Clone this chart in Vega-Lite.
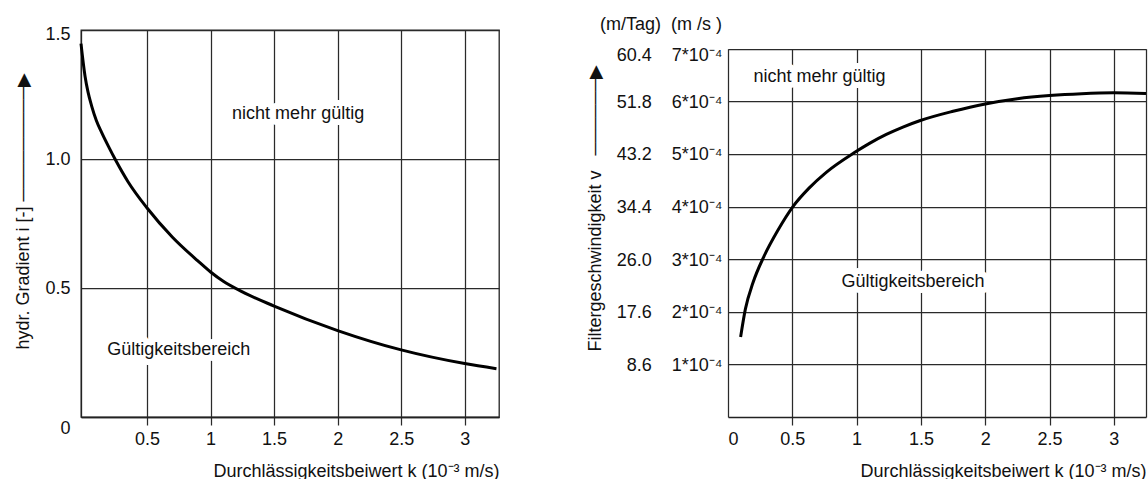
{
  "$schema": "https://vega.github.io/schema/vega-lite/v6.json",
  "background": "white",
  "padding": {"left": 14, "top": 15, "right": 0, "bottom": 0},
  "spacing": 82,
  "config": {
    "font": "Liberation Sans",
    "axis": {
      "labelFont": "Liberation Sans", "labelFontSize": 18, "labelColor": "#111",
      "titleFont": "Liberation Sans", "titleFontSize": 18, "titleFontWeight": "normal", "titleColor": "#111",
      "gridColor": "#2a2a2a", "gridWidth": 1.25, "gridOpacity": 1,
      "domainColor": "#222", "domainWidth": 1.3,
      "tickColor": "#2a2a2a", "tickWidth": 1.25
    },
    "title": {"font": "Liberation Sans", "fontSize": 18, "fontWeight": "normal", "color": "#111"}
  },
  "datasets": {
    "gradient": [
      {"k": -0.02, "i": 1.447}, {"k": 0.0115, "i": 1.322}, {"k": 0.035, "i": 1.26},
      {"k": 0.064, "i": 1.205}, {"k": 0.1, "i": 1.15}, {"k": 0.143, "i": 1.102},
      {"k": 0.2, "i": 1.045}, {"k": 0.253, "i": 0.995}, {"k": 0.35, "i": 0.912},
      {"k": 0.5, "i": 0.81}, {"k": 0.7, "i": 0.697}, {"k": 0.9, "i": 0.605},
      {"k": 1.0, "i": 0.562}, {"k": 1.1, "i": 0.526}, {"k": 1.25, "i": 0.485},
      {"k": 1.5, "i": 0.43}, {"k": 2.0, "i": 0.335}, {"k": 2.5, "i": 0.26},
      {"k": 3.0, "i": 0.207}, {"k": 3.25, "i": 0.187}
    ],
    "velocity": [
      {"k": 0.098, "v": 1.52}, {"k": 0.135, "v": 2.05}, {"k": 0.194, "v": 2.55},
      {"k": 0.279, "v": 3.05}, {"k": 0.388, "v": 3.55}, {"k": 0.505, "v": 4.0},
      {"k": 0.63, "v": 4.35}, {"k": 0.764, "v": 4.65}, {"k": 0.98, "v": 5.02},
      {"k": 1.1, "v": 5.2}, {"k": 1.231, "v": 5.37}, {"k": 1.36, "v": 5.51},
      {"k": 1.49, "v": 5.63}, {"k": 1.75, "v": 5.81}, {"k": 2.0, "v": 5.95},
      {"k": 2.25, "v": 6.05}, {"k": 2.5, "v": 6.11}, {"k": 2.75, "v": 6.145},
      {"k": 3.0, "v": 6.16}, {"k": 3.25, "v": 6.15}
    ],
    "labelsLeft": [
      {"k": 1.689, "i": 1.174, "label": "nicht mehr gültig"},
      {"k": 0.75, "i": 0.26, "label": "Gültigkeitsbereich"}
    ],
    "labelsRight": [
      {"k": 0.712, "v": 6.46, "label": "nicht mehr gültig"},
      {"k": 1.438, "v": 2.57, "label": "Gültigkeitsbereich"}
    ]
  },
  "hconcat": [
    {
      "width": 418,
      "height": 387,
      "view": {"stroke": "#222", "strokeWidth": 1.3},
      "layer": [
        {
          "data": {"name": "gradient"},
          "mark": {"type": "line", "color": "#000", "strokeWidth": 3, "interpolate": "monotone"},
          "encoding": {
            "x": {
              "field": "k", "type": "quantitative",
              "scale": {"domain": [-0.02, 3.27], "nice": false, "zero": false},
              "axis": {
                "values": [0.5, 1, 1.5, 2, 2.5, 3],
                "labelExpr": "datum.value + ''",
                "grid": true, "tickSize": 8, "labelPadding": 5.5,
                "title": "Durchlässigkeitsbeiwert k (10⁻³ m/s)",
                "titleAnchor": "end", "titlePadding": 13.5
              }
            },
            "y": {
              "field": "i", "type": "quantitative",
              "scale": {"domain": [0, 1.5], "nice": false},
              "axis": {
                "values": [0, 0.5, 1, 1.5],
                "labelExpr": "datum.value == 0 ? '0' : format(datum.value, '.1f')",
                "ticks": false, "grid": true, "labelPadding": 11,
                "labelOffset": {"condition": [{"test": "datum.value == 0", "value": 11}, {"test": "datum.value == 1.5", "value": 4}], "value": 0},
                "title": "hydr. Gradient i [-]\u00a0─────────▶",
                "titleAlign": "left", "titleY": 319, "titlePadding": 12
              }
            }
          }
        },
        {
          "data": {"name": "labelsLeft"},
          "mark": {"type": "text", "fontSize": 18, "font": "Liberation Sans", "fill": "white", "stroke": "white", "strokeWidth": 12, "strokeJoin": "round"},
          "encoding": {
            "x": {"field": "k", "type": "quantitative"},
            "y": {"field": "i", "type": "quantitative"},
            "text": {"field": "label"}
          }
        },
        {
          "data": {"name": "labelsLeft"},
          "mark": {"type": "text", "fontSize": 18, "font": "Liberation Sans", "fill": "#111"},
          "encoding": {
            "x": {"field": "k", "type": "quantitative"},
            "y": {"field": "i", "type": "quantitative"},
            "text": {"field": "label"}
          }
        }
      ]
    },
    {
      "width": 418,
      "height": 387,
      "view": {"stroke": null},
      "title": {"text": "(m/Tag)\u00a0\u00a0(m /s )", "anchor": "start", "frame": "group", "dx": -128, "offset": -3.5},
      "layer": [
        {
          "data": {"name": "velocity"},
          "mark": {"type": "line", "color": "#000", "strokeWidth": 3, "interpolate": "monotone"},
          "encoding": {
            "x": {
              "field": "k", "type": "quantitative",
              "scale": {"domain": [0, 3.25], "nice": false, "zero": false},
              "axis": {
                "values": [0, 0.5, 1, 1.5, 2, 2.5, 3, 3.25],
                "labelExpr": "datum.value == 3.25 ? '' : datum.value + ''",
                "grid": true, "tickSize": 8, "labelPadding": 5.5,
                "tickOpacity": {"condition": {"test": "datum.value == 0 || datum.value == 3.25", "value": 0}, "value": 1},
                "title": "Durchlässigkeitsbeiwert k (10⁻³ m/s)",
                "titleAnchor": "end", "titlePadding": 13.5
              }
            },
            "y": {
              "field": "v", "type": "quantitative",
              "scale": {"domain": [0.355, 7.355], "nice": false, "zero": false, "range": [368.3, 0]},
              "axis": {
                "values": [1, 2, 3, 4, 5, 6, 7],
                "labelExpr": "['', '8.6', '17.6', '26.0', '34.4', '43.2', '51.8', '60.4'][datum.value] + '\u00a0\u00a0\u00a0\u00a0' + datum.value + '*10⁻⁴'",
                "ticks": false, "grid": true, "domain": false, "labelPadding": 6,
                "labelOffset": {"condition": {"test": "datum.value == 7", "value": 7}, "value": 1},
                "title": "Filtergeschwindigkeit v\u00a0\u00a0\u00a0──────▶",
                "titleAlign": "left", "titleY": 321, "titlePadding": 12
              }
            }
          }
        },
        {
          "data": {"name": "labelsRight"},
          "mark": {"type": "text", "fontSize": 18, "font": "Liberation Sans", "fill": "white", "stroke": "white", "strokeWidth": 12, "strokeJoin": "round"},
          "encoding": {
            "x": {"field": "k", "type": "quantitative"},
            "y": {"field": "v", "type": "quantitative"},
            "text": {"field": "label"}
          }
        },
        {
          "data": {"name": "labelsRight"},
          "mark": {"type": "text", "fontSize": 18, "font": "Liberation Sans", "fill": "#111"},
          "encoding": {
            "x": {"field": "k", "type": "quantitative"},
            "y": {"field": "v", "type": "quantitative"},
            "text": {"field": "label"}
          }
        }
      ]
    }
  ]
}
